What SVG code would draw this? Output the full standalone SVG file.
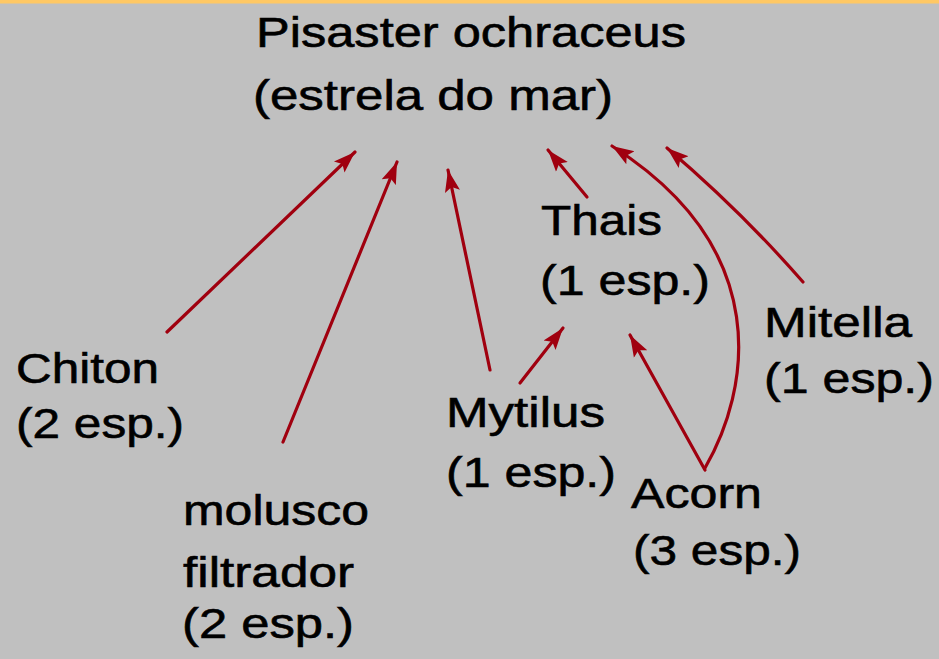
<svg xmlns="http://www.w3.org/2000/svg" width="939" height="659" viewBox="0 0 939 659">
<style>
text{font-family:"Liberation Sans",Arial,sans-serif;font-size:43px;fill:#000;stroke:#000;stroke-width:0.6}
.c{fill:none;stroke:#a0000f;stroke-width:3.2;stroke-linecap:round}
</style>
<defs>
<marker id="ah" markerUnits="userSpaceOnUse" markerWidth="24" markerHeight="18" refX="20" refY="8" orient="auto" viewBox="0 0 22 16">
<path d="M0,1 L20,8 L0,15 L4,8 Z" fill="#a0000f"/>
</marker>
</defs>
<rect x="0" y="0" width="939" height="659" fill="#c0c0c0"/>
<rect x="0" y="0" width="939" height="3.5" fill="#ffc864"/>
<g id="connectors">
<path class="c" d="M167,332 L355,152" marker-end="url(#ah)"/>
<path class="c" d="M283,442 L397,162" marker-end="url(#ah)"/>
<path class="c" d="M490,370 L448,170" marker-end="url(#ah)"/>
<path class="c" d="M587,197 L548,150" marker-end="url(#ah)"/>
<path class="c" d="M705,468 C750,390 775,250 612,146" marker-end="url(#ah)"/>
<path class="c" d="M803,282 Q740,210 667,148" marker-end="url(#ah)"/>
<path class="c" d="M520,383 L563,328" marker-end="url(#ah)"/>
<path class="c" d="M705,470 L630,335" marker-end="url(#ah)"/>
</g>
<g id="pisaster">
<text x="256" y="47" textLength="430" lengthAdjust="spacingAndGlyphs">Pisaster ochraceus</text>
<text x="253" y="110" textLength="360" lengthAdjust="spacingAndGlyphs">(estrela do mar)</text>
</g>
<g id="chiton">
<text x="16" y="383" textLength="143" lengthAdjust="spacingAndGlyphs">Chiton</text>
<text x="16" y="438" textLength="168" lengthAdjust="spacingAndGlyphs">(2 esp.)</text>
</g>
<g id="molusco">
<text x="183" y="525" textLength="186" lengthAdjust="spacingAndGlyphs">molusco</text>
<text x="183" y="587" textLength="171" lengthAdjust="spacingAndGlyphs">filtrador</text>
<text x="182" y="638" textLength="172" lengthAdjust="spacingAndGlyphs">(2 esp.)</text>
</g>
<g id="thais">
<text x="541" y="235" textLength="121" lengthAdjust="spacingAndGlyphs">Thais</text>
<text x="540" y="295" textLength="170" lengthAdjust="spacingAndGlyphs">(1 esp.)</text>
</g>
<g id="mytilus">
<text x="446" y="427" textLength="159" lengthAdjust="spacingAndGlyphs">Mytilus</text>
<text x="446" y="487" textLength="170" lengthAdjust="spacingAndGlyphs">(1 esp.)</text>
</g>
<g id="acorn">
<text x="631" y="508" textLength="131" lengthAdjust="spacingAndGlyphs">Acorn</text>
<text x="633" y="565" textLength="168" lengthAdjust="spacingAndGlyphs">(3 esp.)</text>
</g>
<g id="mitella">
<text x="764" y="337" textLength="148" lengthAdjust="spacingAndGlyphs">Mitella</text>
<text x="764" y="393" textLength="170" lengthAdjust="spacingAndGlyphs">(1 esp.)</text>
</g>
</svg>
